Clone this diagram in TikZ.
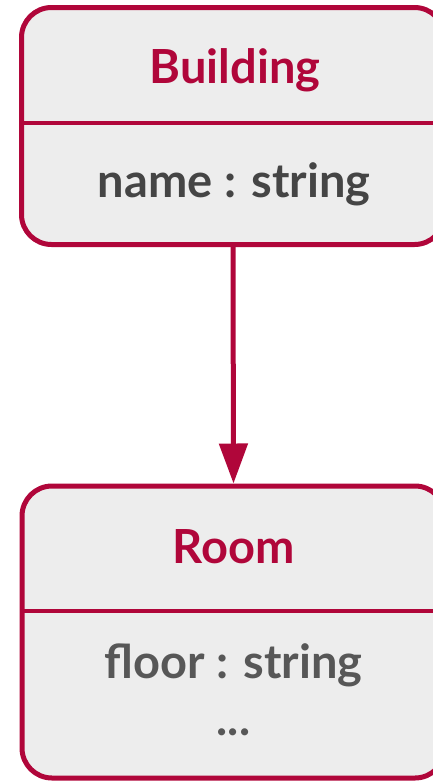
\documentclass[tikz,border=0pt]{standalone}
\usepackage{fontspec}
\setmainfont{Lato}
\usetikzlibrary{arrows.meta}
\definecolor{crim}{HTML}{B0063A}
\definecolor{boxfill}{HTML}{EDEDED}
\definecolor{attr}{HTML}{454545}
\definecolor{attrb}{HTML}{575757}
\tikzset{
  classbox/.style={draw=crim, line width=5pt, fill=boxfill, rounded corners=30pt, minimum width=423pt, inner sep=0pt},
  divider/.style={draw=crim, line width=4pt},
  titletext/.style={text=crim, font=\fontsize{47}{56}\selectfont\bfseries, anchor=base, inner sep=0pt},
  attrtext/.style={text=attr, font=\fontsize{47}{56}\selectfont\bfseries, anchor=base, inner sep=0pt},
  assoc/.style={draw=crim, line width=5pt, -{Triangle[length=40pt,width=28pt]}}
}
\begin{document}
\begin{tikzpicture}[x=1pt,y=1pt]
\useasboundingbox (0,0) rectangle (433,-782);
\node[classbox, minimum height=237pt] (building) at (233,-126) {};
\node[classbox, minimum height=292pt] (room) at (233.5,-632) {};
\coordinate (bdl) at (21.5,-123);
\coordinate (bdr) at (445,-123);
\coordinate (rdl) at (22.5,-611);
\coordinate (rdr) at (446,-611);
\draw[divider] (bdl) -- (bdr);
\draw[divider] (rdl) -- (rdr);
\node[titletext] (btitle) at (235,-83) {Building};
\node[attrtext] (battr) at (234,-197) {name : string};
\node[titletext] (rtitle) at (233.5,-563) {Room};
\node[attrtext, text=attrb] (rattr) at (233.5,-678) {floor : string};
\node[attrtext, text=attrb] (rmore) at (233.5,-735) {...};
\draw[assoc] (building.south) -- (room.north);
\end{tikzpicture}
\end{document}
